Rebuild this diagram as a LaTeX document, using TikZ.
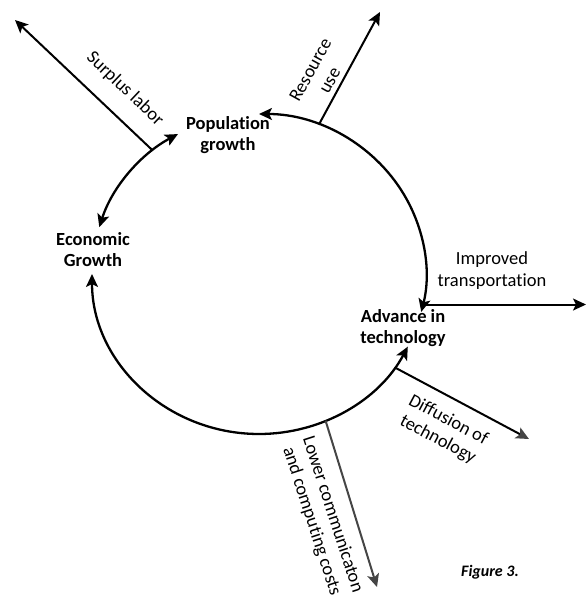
\documentclass[tikz,border=0pt]{standalone}
\usepackage{fontspec}
\setmainfont{Carlito}[Ligatures=NoCommon]
\usetikzlibrary{arrows.meta,calc}
\definecolor{tipgray}{HTML}{454545}
\tikzset{
  twoway/.style={line width=2.3pt, {Stealth[length=13pt,width=12pt,inset=3pt]}-{Stealth[length=13pt,width=12pt,inset=3pt]}},
  outflow/.style={line width=2pt, -{Stealth[length=13pt,width=12pt,inset=3pt]}},
  factor/.style={font=\fontsize{18.5}{21}\selectfont\bfseries, align=center, inner sep=0pt},
  flowlabel/.style={font=\fontsize{18.5}{22}\selectfont, align=center, inner sep=0pt}
}
\begin{document}
\begin{tikzpicture}[x=1pt,y=1pt]
\useasboundingbox (0,0) rectangle (586,597);
% centre of the feedback loop (elliptical)
\coordinate (c) at (259,323);
\def\ra{167}\def\rb{160}

% the three factors
\node[factor] (pop) at (228,462) {Population\\growth};
\node[factor] (econ) at (93,347) {Economic\\Growth};
\node[factor] (tech) at (403,269) {Advance in\\technology};

% points on the loop
\coordinate (a1s) at ($(c)+(163:\ra pt and \rb pt)$);
\coordinate (a2s) at ($(c)+(90:\ra pt and \rb pt)$);
\coordinate (a3s) at ($(c)+(180:\ra pt and \rb pt)$);
\coordinate (bSurplus) at ($(c)+(129.5:\ra pt and \rb pt)$);
\coordinate (bResource) at ($(c)+(69:\ra pt and \rb pt)$);
\coordinate (bTransport) at ($(c)+(-11:\ra pt and \rb pt)$);
\coordinate (bDiffusion) at ($(c)+(-35.7:\ra pt and \rb pt)$);
\coordinate (bLower) at ($(c)+(-66.5:\ra pt and \rb pt)$);

% free ends of the outflows
\coordinate (tSurplus) at (15,577);
\coordinate (tResource) at (380,585);
\coordinate (tTransport) at (586,0 |- bTransport);
\coordinate (tDiffusion) at (529,158);
\coordinate (tLower) at (377,10);

% loop arcs
\draw[twoway] (a1s) arc[start angle=163, end angle=119, x radius=\ra pt, y radius=\rb pt];
\draw[twoway] (a2s) arc[start angle=90, end angle=-13.7, x radius=\ra pt, y radius=\rb pt];
\draw[twoway] (a3s) arc[start angle=180, end angle=333, x radius=\ra pt, y radius=\rb pt];

% outflows
\draw[outflow] (bSurplus) -- (tSurplus);
\draw[outflow] (bResource) -- (tResource);
\draw[outflow] (bTransport) -- (tTransport);
\draw[line width=2pt, -{Stealth[length=13pt,width=12pt,inset=3pt,color=tipgray]}] (bDiffusion) -- (tDiffusion);
\draw[line width=2pt, draw=tipgray, -{Stealth[length=13pt,width=12pt,inset=3pt]}] (bLower) -- (tLower);

% outflow labels
\node[flowlabel, rotate=-43.5] (lSurplus) at (125,508) {Surplus labor};
\node[flowlabel, rotate=61] (lResource) at (320,522) {Resource\\use};
\node[flowlabel] (lTransport) at (492,326) {Improved\\transportation};
\node[flowlabel, rotate=-28] (lDiffusion) at (443,167) {Diffusion of\\technology};
\node[flowlabel, rotate=-72] (lLower) at (322,79) {Lower communicaton\\and computing costs};

% caption
\node[font=\fontsize{16}{18}\selectfont\bfseries\itshape, inner sep=0pt] (cap) at (490,25) {Figure 3.};
\end{tikzpicture}
\end{document}
